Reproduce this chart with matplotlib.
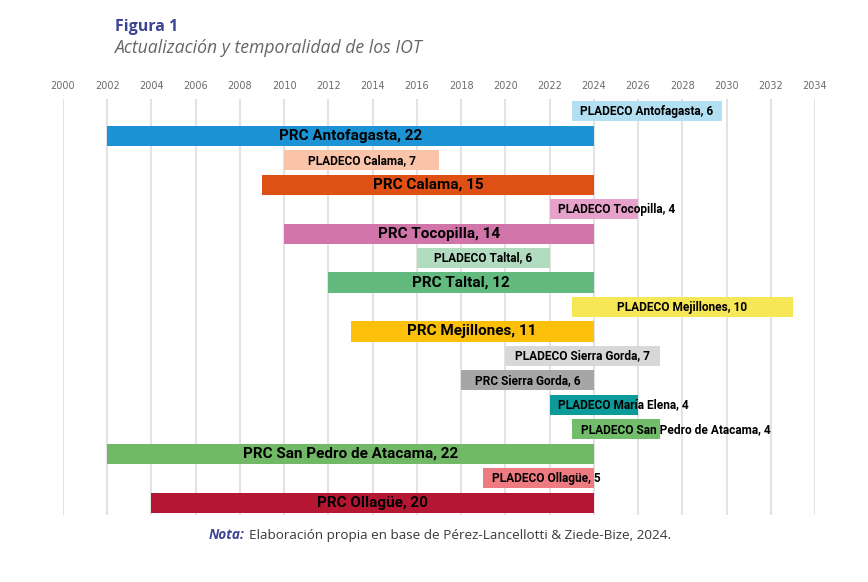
import matplotlib
matplotlib.use('Agg')
import matplotlib.pyplot as plt

labels = ['PLADECO Antofagasta, 6', 'PRC Antofagasta, 22', 'PLADECO Calama, 7', 'PRC Calama, 15',
          'PLADECO Tocopilla, 4', 'PRC Tocopilla, 14', 'PLADECO Taltal, 6', 'PRC Taltal, 12',
          'PLADECO Mejillones, 10', 'PRC Mejillones, 11', 'PLADECO Sierra Gorda, 7', 'PRC Sierra Gorda, 6',
          'PLADECO María Elena, 4', 'PLADECO San Pedro de Atacama, 4', 'PRC San Pedro de Atacama, 22',
          'PLADECO Ollagüe, 5', 'PRC Ollagüe, 20']
start = [2023, 2002, 2010, 2009, 2022, 2010, 2016, 2012, 2023, 2013, 2020, 2018, 2022, 2023, 2002, 2019, 2004]
end = [2029.8, 2024, 2017, 2024, 2026, 2024, 2022, 2024, 2033, 2024, 2027, 2024, 2026, 2027, 2024, 2024, 2024]
colors = ['#b3dff2', '#1b93d4', '#f9c4a9', '#de5014', '#e6a2ca', '#d174aa', '#b1dcc0', '#62ba7e',
          '#f6e757', '#fcc00a', '#d8d8d8', '#a6a6a6', '#0b9b9b', '#72bd69', '#72b967', '#ee7b81', '#b51732']
years = list(range(2000, 2035, 2))

lab_font = ['Roboto', 'DejaVu Sans']

fig = plt.figure(figsize=(8.68, 5.82), dpi=100)
ax = fig.add_axes([63 / 868, 1 - 515 / 582, 752 / 868, (515 - 99) / 582])

n = len(labels)
for i in range(n):
    ax.barh(i, end[i] - start[i], left=start[i], height=0.82, color=colors[i], zorder=2)

ax.set_xlim(2000, 2034)
ax.set_ylim(n - 0.5, -0.5)
ax.set_xticks(years)
ax.xaxis.tick_top()
ax.tick_params(axis='x', length=0, pad=6, labelsize=7, labelcolor='#6b6b6b')
ax.set_yticks([])
for s in ax.spines.values():
    s.set_visible(False)
ax.grid(axis='x', color='#e3e3e3', linewidth=1.5, zorder=0)

fig.canvas.draw()
renderer = fig.canvas.get_renderer()
inv = ax.transData.inverted()
for i in range(n):
    big = labels[i].startswith('PRC') and (end[i] - start[i]) >= 10
    size = 11 if big else 8.6
    mid = (start[i] + end[i]) / 2
    t = ax.text(mid, i, labels[i], ha='center', va='center', fontsize=size,
                fontweight='bold', family=lab_font, color='black', zorder=3)
    bb = t.get_window_extent(renderer)
    x0 = inv.transform((bb.x0, 0))[0]
    x1 = inv.transform((bb.x1, 0))[0]
    # too long for its bar: start it near the left end instead
    if (x1 - x0) > (end[i] - start[i]) - 0.3:
        t.set_ha('left')
        t.set_x(start[i] + 0.4)

fig.text(115 / 868, 1 - 27 / 582, 'Figura 1', fontsize=11.5, fontweight='bold',
         color='#3d4494', family='Open Sans', va='center')
fig.text(115 / 868, 1 - 48 / 582, 'Actualización y temporalidad de los IOT', fontsize=12.7,
         style='italic', color='#666666', family='Open Sans', va='center')

t1 = fig.text(209 / 868, 1 - 535 / 582, 'Nota:', fontsize=9.8, fontweight='bold', style='italic',
              color='#3d4494', family='Open Sans', va='center')
fig.canvas.draw()
bb = t1.get_window_extent(renderer)
fig.text((bb.x1 + 4) / 868, 1 - 535 / 582,
         'Elaboración propia en base de Pérez-Lancellotti & Ziede-Bize, 2024.',
         fontsize=9.7, color='#3a3a3a', family='Open Sans', va='center')

fig.savefig('out.png', dpi=100)
